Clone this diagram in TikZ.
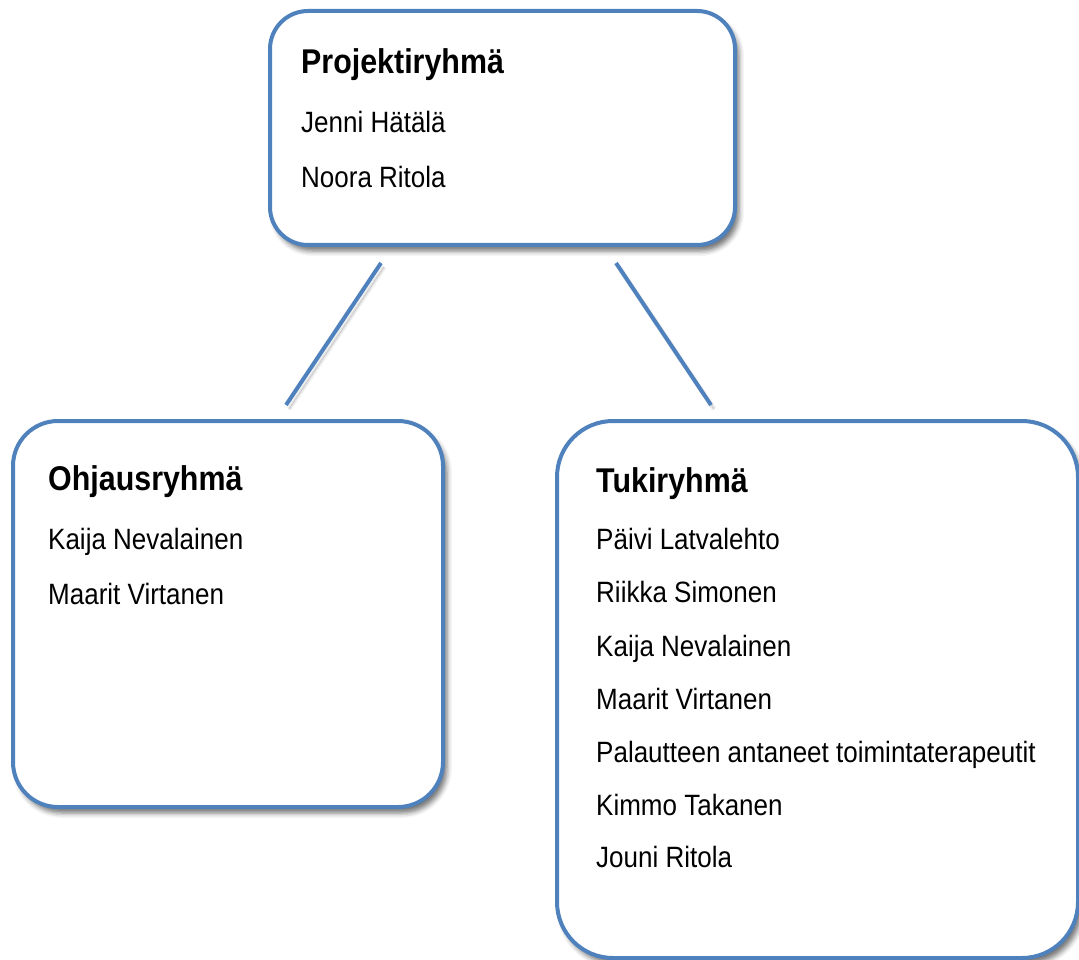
\documentclass[tikz,border=0pt]{standalone}
\usepackage{fontspec}
\setmainfont{Liberation Sans}
\usetikzlibrary{shadows.blur}
\definecolor{boxblue}{HTML}{4F81BD}
\newcommand\tallt[1]{\scalebox{1}[1.13]{#1}}
\tikzset{
  grpbox/.style={draw=boxblue, line width=4pt, fill=white, rectangle, inner sep=0pt,
    blur shadow={shadow xshift=4pt, shadow yshift=-6pt, shadow blur radius=5pt, shadow opacity=55}},
  conn/.style={draw=boxblue, line width=4pt,
    blur shadow={shadow xshift=3pt, shadow yshift=-4pt, shadow blur radius=3pt, shadow opacity=35}},
  ttl/.style={anchor=base west, inner sep=0pt, font=\fontsize{30.4}{36}\selectfont\bfseries},
  itm/.style={anchor=base west, inner sep=0pt, font=\fontsize{26}{31}\selectfont},
}
\begin{document}
\begin{tikzpicture}[x=1pt,y=-1pt]
\useasboundingbox (0,0) rectangle (1079,960);
% connectors
\coordinate (l1) at (381,263);
\coordinate (l2) at (286,405);
\coordinate (r1) at (616,263);
\coordinate (r2) at (711,405);
\path[conn] (l1) -- (l2);
\path[conn] (r1) -- (r2);
% boxes
\node[grpbox, rounded corners=38pt, minimum width=465pt, minimum height=234pt] (proj) at (502.5,128) {};
\node[grpbox, rounded corners=45pt, minimum width=430pt, minimum height=386pt] (ohj) at (228,614) {};
\node[grpbox, rounded corners=56pt, minimum width=521pt, minimum height=537pt] (tuki) at (817.5,689.5) {};
% texts
\node[ttl] (pt) at (301,74) {\tallt{Projektiryhmä}};
\node[itm] (p1) at (301,133) {\tallt{Jenni Hätälä}};
\node[itm] (p2) at (301,188) {\tallt{Noora Ritola}};
\node[ttl] (ot) at (48,490) {\tallt{Ohjausryhmä}};
\node[itm] (o1) at (48,549) {\tallt{Kaija Nevalainen}};
\node[itm] (o2) at (48,604) {\tallt{Maarit Virtanen}};
\node[ttl] (tt) at (596,492) {\tallt{Tukiryhmä}};
\node[itm] (t1) at (596,549) {\tallt{Päivi Latvalehto}};
\node[itm] (t2) at (596,602) {\tallt{Riikka Simonen}};
\node[itm] (t3) at (596,656) {\tallt{Kaija Nevalainen}};
\node[itm] (t4) at (596,709) {\tallt{Maarit Virtanen}};
\node[itm] (t5) at (596,762) {\tallt{Palautteen antaneet toimintaterapeutit}};
\node[itm] (t6) at (596,815) {\tallt{Kimmo Takanen}};
\node[itm] (t7) at (596,867) {\tallt{Jouni Ritola}};
\end{tikzpicture}
\end{document}
